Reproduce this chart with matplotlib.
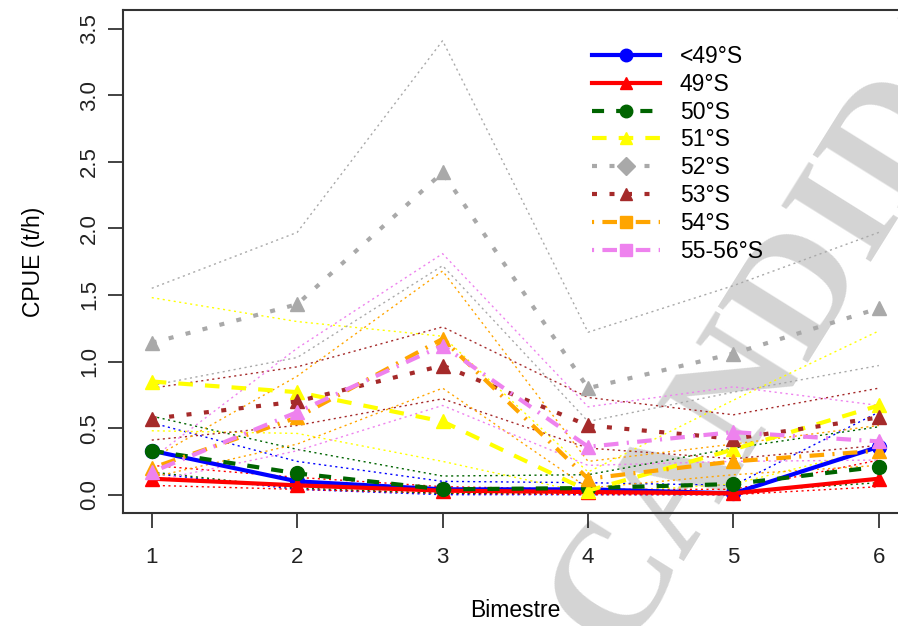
import matplotlib
matplotlib.use('Agg')
import matplotlib.pyplot as plt
from matplotlib.lines import Line2D

plt.rcParams['font.family'] = ['Liberation Sans', 'DejaVu Sans']

bimestre = [1, 2, 3, 4, 5, 6]
zones = ['<49°S', '49°S', '50°S', '51°S', '52°S', '53°S', '54°S', '55-56°S']

# CPUE (t/h) per bimestre, with upper / lower bands
mean_lt49 = [0.33, 0.10, 0.04, 0.04, 0.01, 0.36]
upper_lt49 = [0.54, 0.25, 0.10, 0.09, 0.07, 0.62]
lower_lt49 = [0.16, 0.04, 0.00, 0.00, 0.00, 0.12]

mean_49 = [0.12, 0.07, 0.03, 0.02, 0.01, 0.12]
upper_49 = [0.22, 0.13, 0.06, 0.04, 0.04, 0.26]
lower_49 = [0.07, 0.04, 0.01, 0.00, 0.00, 0.06]

mean_50 = [0.33, 0.16, 0.04, 0.05, 0.08, 0.21]
upper_50 = [0.59, 0.34, 0.14, 0.15, 0.35, 0.51]
lower_50 = [0.17, 0.05, 0.01, 0.01, 0.02, 0.09]

mean_51 = [0.85, 0.77, 0.55, 0.03, 0.34, 0.67]
upper_51 = [1.48, 1.30, 1.19, 0.17, 0.71, 1.23]
lower_51 = [0.48, 0.46, 0.25, 0.01, 0.08, 0.35]

mean_52 = [1.14, 1.43, 2.42, 0.80, 1.06, 1.40]
upper_52 = [1.55, 1.97, 3.41, 1.22, 1.57, 1.97]
lower_52 = [0.82, 1.03, 1.72, 0.55, 0.77, 0.97]

mean_53 = [0.57, 0.70, 0.97, 0.52, 0.42, 0.58]
upper_53 = [0.80, 0.96, 1.26, 0.73, 0.60, 0.80]
lower_53 = [0.41, 0.52, 0.72, 0.35, 0.27, 0.37]

mean_54 = [0.20, 0.58, 1.17, 0.12, 0.25, 0.33]
upper_54 = [0.27, 0.89, 1.68, 0.25, 0.38, 0.52]
lower_54 = [0.13, 0.38, 0.80, 0.05, 0.15, 0.22]

mean_5556 = [0.17, 0.62, 1.12, 0.36, 0.47, 0.40]
upper_5556 = [0.27, 1.10, 1.81, 0.66, 0.81, 0.67]
lower_5556 = [0.10, 0.33, 0.67, 0.22, 0.25, 0.26]

series = [
    (mean_lt49, upper_lt49, lower_lt49),
    (mean_49, upper_49, lower_49),
    (mean_50, upper_50, lower_50),
    (mean_51, upper_51, lower_51),
    (mean_52, upper_52, lower_52),
    (mean_53, upper_53, lower_53),
    (mean_54, upper_54, lower_54),
    (mean_5556, upper_5556, lower_5556),
]

colors = ['blue', 'red', '#006400', 'yellow', '#A9A9A9', '#A52A2A', 'orange', 'violet']
dashes = [None, None, (2.9, 2.9), (3.5, 2.9), (1.2, 3.0), (1.2, 3.0),
          (0.5, 2.0, 3.5, 2.0), (0.5, 2.0, 3.5, 2.0)]
plot_markers = ['o', '^', 'o', '^', '^', '^', '^', '^']
legend_markers = ['o', '^', 'o', '^', 'D', '^', 's', 's']

fig = plt.figure(figsize=(8.98, 6.26), dpi=100)
ax = fig.add_axes([0.1366, 0.18, 0.8745, 0.804])
ax.set_facecolor('none')

# watermark behind the plot
fig.text(0.652, -0.012, 'CANDIDATE', fontsize=116, family='Liberation Serif',
         fontweight='bold', color='#d4d4d4', rotation=58, rotation_mode='anchor',
         ha='left', va='center', zorder=-5)

# thin dotted bands
for (m, hi, lo), c in zip(series, colors):
    ax.plot(bimestre, hi, color=c, lw=1.0, dashes=(1.5, 2.5), zorder=2)
    ax.plot(bimestre, lo, color=c, lw=1.0, dashes=(1.5, 2.5), zorder=2)

# main lines
for i, ((m, hi, lo), c) in enumerate(zip(series, colors)):
    kw = dict(color=c, lw=3.0, marker=plot_markers[i], markersize=10, zorder=3)
    if dashes[i] is not None:
        kw['dashes'] = dashes[i]
    ax.plot(bimestre, m, **kw)

handles = []
for i, c in enumerate(colors):
    kw = dict(color=c, lw=3.0, marker=legend_markers[i], markersize=9)
    if dashes[i] is not None:
        kw['dashes'] = dashes[i]
    handles.append(Line2D([], [], **kw))
fig.legend(handles, zones, loc='upper left', bbox_to_anchor=(592 / 898, 1 - 45 / 626),
           frameon=False, fontsize=16.5, handlelength=2.97, handletextpad=0.87,
           labelspacing=0.21, borderpad=0, borderaxespad=0)

ax.set_xlim(0.8, 6.2)
ax.set_ylim(-0.14, 3.64)
ax.set_xticks(bimestre)
ax.set_yticks([0.0, 0.5, 1.0, 1.5, 2.0, 2.5, 3.0, 3.5])
ax.set_yticklabels(['0.0', '0.5', '1.0', '1.5', '2.0', '2.5', '3.0', '3.5'],
                   rotation=90, va='center')
ax.tick_params(axis='both', direction='out', length=10.5, width=1.2,
               labelsize=16, colors='#222222')
ax.tick_params(axis='x', pad=14)
ax.tick_params(axis='y', pad=6)
for s in ax.spines.values():
    s.set_linewidth(1.5)
    s.set_color('#333333')

ax.set_xlabel('Bimestre', fontsize=16.5, labelpad=22)
ax.set_ylabel('CPUE (t/h)', fontsize=16.5, labelpad=24)

fig.savefig('out.png', dpi=100)
